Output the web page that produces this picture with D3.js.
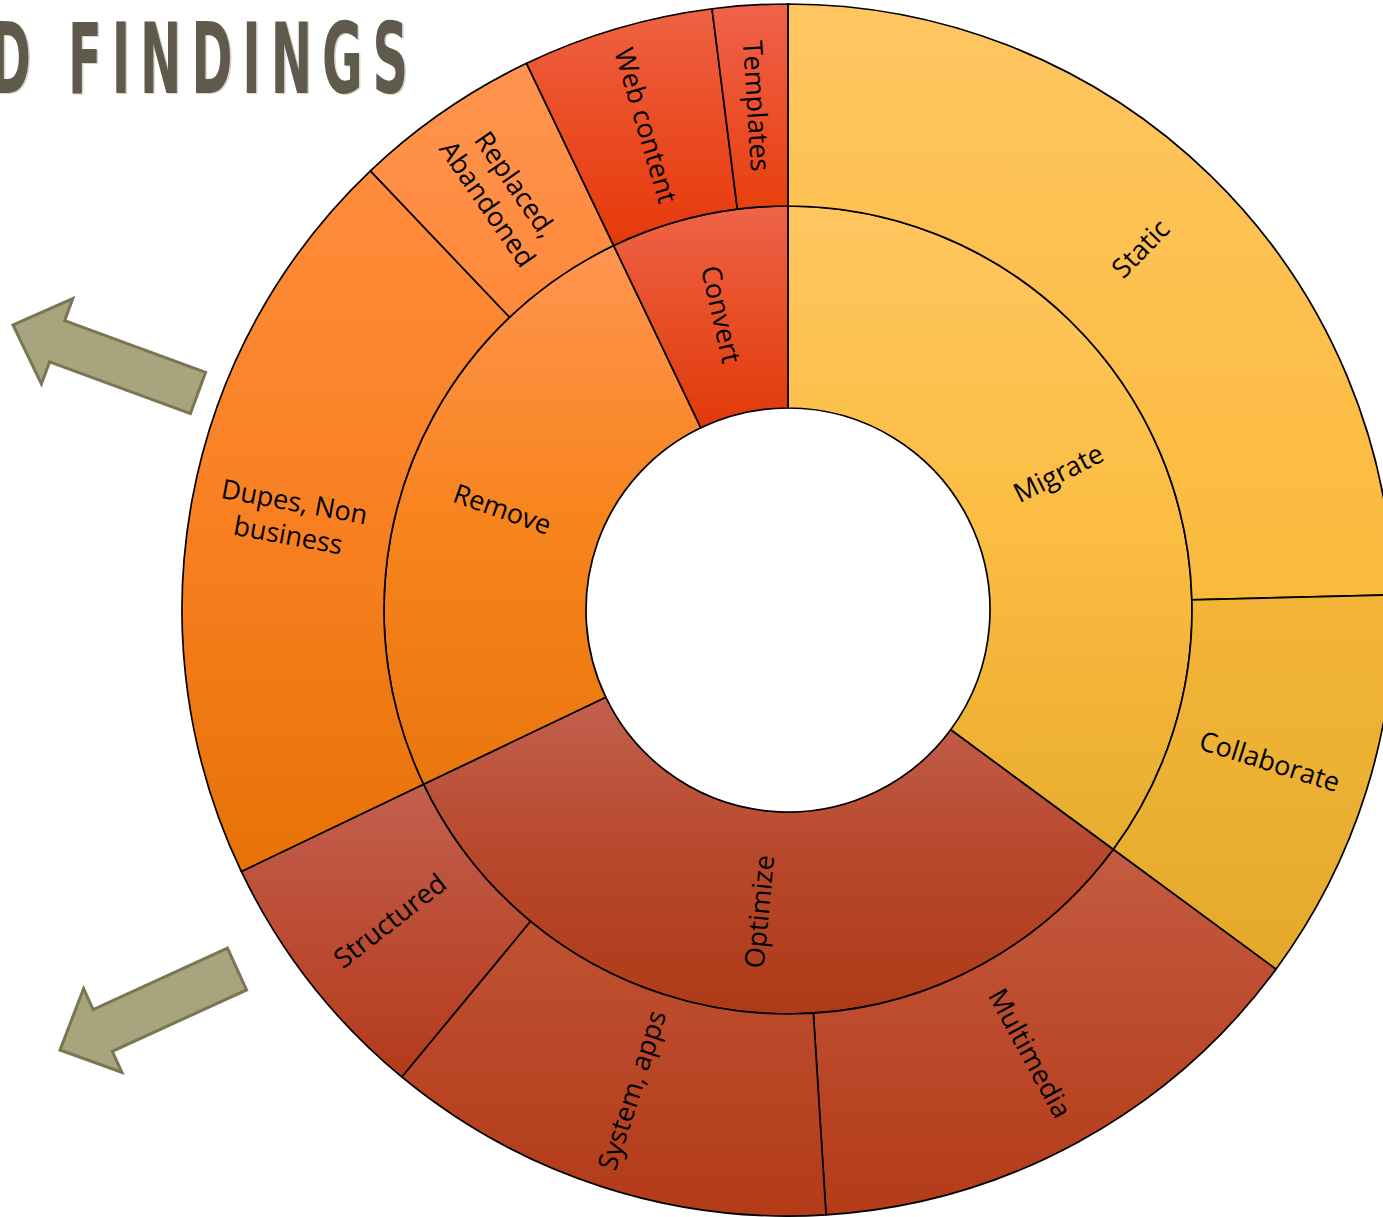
<!DOCTYPE html>
<html><head><meta charset="utf-8">
<script src="https://cdn.jsdelivr.net/npm/d3@7"></script>
<style>body{margin:0;background:#fff;overflow:hidden} svg{display:block}</style>
</head><body><svg id="c" width="1383" height="1217"></svg>
<script>
// ---- data ----
const parentNames = ["Migrate", "Optimize", "Remove", "Convert"];
const parentColorTop = ["#FFC660", "#C2604E", "#FF9550", "#EE6448"];
const parentColorMid = ["#FBBD42", "#B8482C", "#F8841E", "#E84E26"];
const parentColorBottom = ["#E8AC2E", "#AE3A17", "#EA760E", "#E0390A"];
const childNames = ["Static", "Collaborate", "Multimedia", "System, apps", "Structured",
                    "Dupes, Non business", "Replaced, Abandoned", "Web content", "Templates"];
const childParents = ["Migrate", "Migrate", "Optimize", "Optimize", "Optimize",
                      "Remove", "Remove", "Convert", "Convert"];
const childValues = [24.6, 10.5, 13.9, 12.0, 6.9, 20.0, 5.0, 5.1, 2.0];
const childLabelLines = [["Static"], ["Collaborate"], ["Multimedia"], ["System, apps"], ["Structured"],
                         ["Dupes, Non", "business"], ["Replaced,", "Abandoned"], ["Web content"], ["Templates"]];
const childColorTop = ["#FFC662", "#F2B538", "#C45B40", "#BF5232", "#C2604E",
                       "#FF8C3C", "#FF944F", "#EE6242", "#F0624A"];
const childColorMid = ["#FDC04E", "#ECB032", "#BC4A2C", "#B94626", "#BC4C34",
                       "#F88022", "#FF8E44", "#EA4C24", "#EC502C"];
const childColorBottom = ["#FABA3C", "#E4A92B", "#B33B18", "#B33B18", "#B43B1B",
                          "#E77206", "#FF893A", "#E6390A", "#E8400F"];
const titleText = "D FINDINGS";

// ---- layout ----
const cx = 788, cy = 610;
const svg = d3.select("#c");

const treeData = {
  name: "root",
  children: parentNames.map((p, pi) => ({
    name: p, top: parentColorTop[pi], mid: parentColorMid[pi], bottom: parentColorBottom[pi],
    children: childNames.map((c, i) => ({ name: c, value: childValues[i], lines: childLabelLines[i],
                                          parent: childParents[i], top: childColorTop[i],
                                          mid: childColorMid[i], bottom: childColorBottom[i] }))
                        .filter(c => c.parent === p)
  }))
};
const root = d3.hierarchy(treeData).sum(d => d.value || 0);
d3.partition().size([2 * Math.PI, 3])(root);

const rScale = d3.scaleLinear().domain([1, 3]).range([202, 606]);
const arc = d3.arc()
  .startAngle(d => d.x0).endAngle(d => d.x1)
  .innerRadius(d => rScale(d.y0)).outerRadius(d => rScale(d.y1));

const nodes = root.descendants().filter(d => d.depth > 0);

const defs = svg.append("defs");
nodes.forEach((d, i) => {
  const g = defs.append("linearGradient").attr("id", "g" + i)
    .attr("x1", 0).attr("y1", 0).attr("x2", 0).attr("y2", 1);
  g.append("stop").attr("offset", "0%").attr("stop-color", d.data.top);
  g.append("stop").attr("offset", "50%").attr("stop-color", d.data.mid);
  g.append("stop").attr("offset", "100%").attr("stop-color", d.data.bottom);
  d.gid = "g" + i;
});

const chart = svg.append("g").attr("transform", `translate(${cx},${cy})`);
chart.selectAll("path.seg").data(nodes).join("path")
  .attr("class", "seg")
  .attr("d", arc)
  .attr("fill", d => `url(#${d.gid})`)
  .attr("stroke", "#000")
  .attr("stroke-width", 1.7)
  .attr("stroke-linejoin", "round");

const fontFam = "'Open Sans', Lato, sans-serif";
const labels = chart.selectAll("text.lbl").data(nodes).join("text")
  .attr("class", "lbl")
  .attr("font-family", fontFam)
  .attr("font-size", 27)
  .attr("fill", "#000")
  .attr("text-anchor", "middle")
  .attr("transform", d => {
    const [x, y] = arc.centroid(d);
    const a = ((d.x0 + d.x1) / 2) * 180 / Math.PI;
    const rot = a < 180 ? a - 90 : a - 270;
    return `translate(${x},${y}) rotate(${rot})`;
  });
labels.each(function(d) {
  const lines = d.depth === 1 ? [d.data.name] : d.data.lines;
  const n = lines.length;
  d3.select(this).selectAll("tspan").data(lines).join("tspan")
    .attr("x", 0)
    .attr("y", (l, i) => (i - (n - 1) / 2) * 34)
    .attr("dy", "0.35em")
    .text(l => l);
});

// ---- title (tall condensed lettering) ----
const titleFont = "'DejaVu Sans Condensed', 'DejaVu Sans', sans-serif";
const sx = 0.56;
[["#D8D5CB", 1.5], ["#5F5A4C", 0]].forEach(([col, off]) => {
  svg.append("g").attr("transform", `translate(${off},${off}) scale(${sx},1)`)
    .append("text")
    .attr("x", -10 / sx).attr("y", 93)
    .attr("font-family", titleFont)
    .attr("font-stretch", "condensed")
    .attr("font-weight", "bold")
    .attr("font-size", 98)
    .attr("fill", col)
    .attr("textLength", 418 / sx).attr("lengthAdjust", "spacing")
    .text(titleText);
});

// ---- arrows (annotations) ----
const arrows = [
  { tip: [13, 325], tail: [198, 393], shaft: 44, head: 91, headLen: 47 },
  { tip: [60, 1050], tail: [237, 969], shaft: 46, head: 92, headLen: 47 }
];
function arrowPoints(a) {
  const dx = a.tip[0] - a.tail[0], dy = a.tip[1] - a.tail[1];
  const L = Math.hypot(dx, dy);
  const ux = dx / L, uy = dy / L, px = -uy, py = ux;
  const bx = a.tip[0] - ux * a.headLen, by = a.tip[1] - uy * a.headLen;
  const s = a.shaft / 2, h = a.head / 2;
  return [
    [a.tail[0] + px * s, a.tail[1] + py * s],
    [bx + px * s, by + py * s],
    [bx + px * h, by + py * h],
    a.tip,
    [bx - px * h, by - py * h],
    [bx - px * s, by - py * s],
    [a.tail[0] - px * s, a.tail[1] - py * s]
  ];
}
svg.selectAll("polygon.arrow").data(arrows).join("polygon")
  .attr("class", "arrow")
  .attr("points", d => arrowPoints(d).map(p => p.join(",")).join(" "))
  .attr("fill", "#A8A47E")
  .attr("stroke", "#7A7553")
  .attr("stroke-width", 3)
  .attr("stroke-linejoin", "miter");
</script>
</body></html>
